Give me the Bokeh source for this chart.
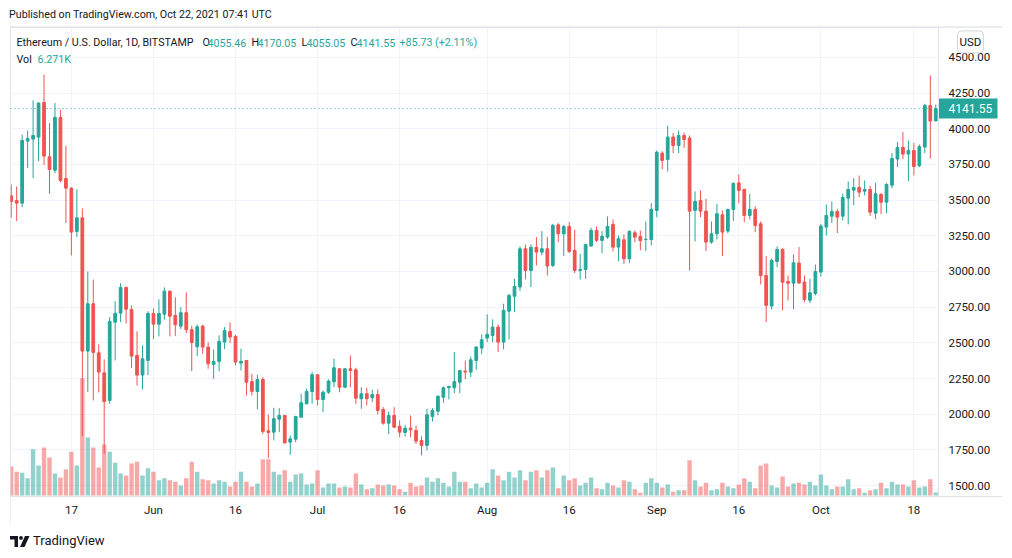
import pandas as pd
from bokeh.plotting import figure
from bokeh.models import ColumnDataSource, Range1d, FixedTicker, NumeralTickFormatter, Label, Div
from bokeh.core.properties import value
from bokeh.layouts import column
from bokeh.embed import file_html
from bokeh.resources import INLINE

# ---------------- data (ETH/USD daily, BITSTAMP) ----------------
dates = pd.date_range("2021-05-06", "2021-10-22", freq="D")

opens = [
    # May 6-31
    3530, 3498, 3479, 3914, 3928, 3942, 4185, 3804, 3710, 4080, 3652, 3584, 3281, 3376, 2442, 2774, 2430, 2290,
    2096, 2645, 2708, 2888, 2734, 2412, 2274, 2377,
    # Jun
    2706, 2631, 2701, 2862, 2692, 2617, 2711, 2592, 2472, 2617, 2470, 2349, 2370, 2505, 2580, 2545, 2358, 2376,
    2229, 2159, 2243, 1883, 1874, 1965, 1991, 1804, 1825, 1979, 2073, 2159,
    # Jul
    2276, 2103, 2154, 2227, 2318, 2189, 2318, 2311, 2108, 2143, 2115, 2138, 2033, 1937, 1991, 1916, 1872, 1902,
    1886, 1816, 1781, 1984, 2021, 2119, 2185, 2185, 2224, 2302, 2295, 2376, 2463,
    # Aug
    2533, 2552, 2610, 2505, 2722, 2827, 2891, 3159, 3007, 3169, 3136, 3159, 3042, 3327, 3264, 3316, 3148, 3007,
    3014, 3178, 3288, 3218, 3241, 3330, 3171, 3222, 3089, 3271, 3245, 3224, 3224,
    # Sep
    3428, 3829, 3785, 3942, 3883, 3953, 3935, 3428, 3498, 3423, 3206, 3264, 3397, 3283, 3435, 3621, 3575, 3393,
    3435, 3334, 2972, 2758, 3070, 3154, 2930, 2918, 3059, 2926, 2799, 2846,
    # Oct 1-22
    2996, 3311, 3388, 3421, 3388, 3514, 3570, 3589, 3563, 3575, 3409, 3540, 3486, 3605, 3788, 3869, 3823, 3848,
    3741, 3872, 4164, 4055.46,
]
highs = [
    3610, 3596, 3960, 3988, 4199, 4187, 4381, 4042, 4180, 4133, 3881, 3590, 3575, 3442, 3000, 2944, 2489, 2384,
    2680, 2792, 2918, 2895, 2762, 2580, 2482, 2722,
    2741, 2804, 2888, 2866, 2820, 2750, 2853, 2620, 2629, 2627, 2503, 2454, 2552, 2610, 2643, 2556, 2458, 2380,
    2283, 2276, 2260, 1998, 2045, 2042, 1995, 1851, 1988, 2143, 2178, 2295,
    2280, 2166, 2243, 2388, 2323, 2325, 2411, 2325, 2189, 2185, 2171, 2173, 2049, 2019, 2049, 1956, 1926, 1991,
    1921, 1846, 2038, 2042, 2131, 2194, 2201, 2435, 2311, 2376, 2404, 2477, 2559,
    2699, 2664, 2629, 2774, 2844, 2949, 3176, 3190, 3190, 3241, 3283, 3241, 3334, 3339, 3325, 3346, 3292, 3124,
    3195, 3306, 3316, 3283, 3386, 3365, 3252, 3260, 3288, 3288, 3287, 3351, 3479,
    3848, 3843, 4023, 3972, 3988, 3972, 3953, 3561, 3568, 3509, 3351, 3474, 3428, 3440, 3626, 3680, 3580, 3544,
    3456, 3351, 3108, 3091, 3175, 3164, 2972, 3119, 3171, 2972, 2949, 3049,
    3334, 3470, 3491, 3439, 3545, 3631, 3654, 3673, 3638, 3601, 3622, 3549, 3619, 3830, 3907, 3977, 3918, 3900,
    3890, 4175, 4374, 4170.05,
]
lows = [
    3376, 3353, 3451, 3724, 3654, 3774, 3746, 3545, 3689, 3624, 3339, 3112, 3241, 1846, 2155, 2096, 2152, 1722,
    2073, 2377, 2645, 2636, 2323, 2201, 2173, 2274,
    2526, 2545, 2662, 2545, 2549, 2596, 2568, 2302, 2407, 2423, 2318, 2248, 2302, 2456, 2498, 2342, 2306, 2131,
    2131, 2035, 1860, 1692, 1816, 1874, 1792, 1715, 1804, 1975, 2068, 2073,
    2061, 2014, 2143, 2189, 2154, 2185, 2189, 2073, 2038, 2061, 2084, 1998, 1926, 1860, 1904, 1839, 1844, 1839,
    1792, 1711, 1746, 1949, 1991, 2080, 2103, 2147, 2147, 2243, 2260, 2311, 2423,
    2505, 2505, 2435, 2454, 2524, 2715, 2863, 2944, 2891, 3042, 3113, 2972, 3031, 3206, 3108, 3129, 2989, 2944,
    2949, 3176, 3206, 3129, 3229, 3141, 3073, 3054, 3059, 3206, 3147, 3143, 3182,
    3381, 3715, 3701, 3829, 3829, 3865, 3007, 3210, 3381, 3143, 3194, 3224, 3108, 3269, 3353, 3479, 3346, 3365,
    3276, 2909, 2645, 2734, 3031, 2727, 2797, 2734, 2915, 2785, 2778, 2832,
    2965, 3253, 3339, 3269, 3358, 3330, 3465, 3521, 3533, 3388, 3367, 3402, 3409, 3584, 3731, 3788, 3633, 3673,
    3731, 3830, 3792, 4055.05,
]
closes = [
    3490, 3479, 3918, 3932, 3953, 4180, 3809, 3715, 4080, 3638, 3584, 3276, 3376, 2442, 2774, 2433, 2295, 2089,
    2650, 2706, 2888, 2736, 2407, 2274, 2388, 2706,
    2631, 2706, 2862, 2687, 2627, 2711, 2592, 2503, 2612, 2470, 2353, 2370, 2510, 2587, 2540, 2365, 2370, 2224,
    2160, 2243, 1879, 1872, 1968, 1991, 1799, 1827, 1984, 2080, 2159, 2276,
    2103, 2154, 2232, 2325, 2189, 2318, 2306, 2112, 2143, 2108, 2138, 2026, 1937, 1991, 1909, 1874, 1902, 1890,
    1811, 1781, 1996, 2026, 2126, 2185, 2194, 2229, 2306, 2295, 2381, 2470, 2521,
    2559, 2610, 2505, 2727, 2832, 2895, 3159, 3007, 3169, 3136, 3159, 3038, 3323, 3264, 3316, 3141, 3007, 3014,
    3190, 3288, 3218, 3246, 3316, 3171, 3229, 3089, 3281, 3241, 3217, 3226, 3435,
    3836, 3778, 3942, 3883, 3953, 3925, 3423, 3491, 3423, 3206, 3264, 3404, 3276, 3435, 3617, 3568, 3393, 3435,
    3323, 2972, 2762, 3077, 3154, 2925, 2918, 3061, 2919, 2804, 2851, 3000,
    3318, 3393, 3421, 3381, 3519, 3575, 3589, 3556, 3575, 3416, 3545, 3486, 3610, 3792, 3869, 3823, 3848, 3736,
    3876, 4164, 4054, 4141.55,
]
volumes_k = [
    61, 50, 48, 36, 97, 63, 101, 80, 46, 38, 55, 92, 63, 246, 122, 101, 59, 107, 92, 69, 46, 42, 67, 71, 42, 57,
    50, 32, 36, 32, 29, 21, 36, 71, 50, 34, 32, 25, 32, 29, 19, 29, 50, 29, 19, 25, 76, 76, 50, 44, 53, 29, 44, 46,
    23, 25,
    53, 17, 25, 25, 17, 19, 17, 46, 23, 13, 15, 23, 21, 23, 21, 13, 8, 27, 19, 21, 38, 29, 36, 27, 19, 50, 29, 29,
    15, 25, 17,
    27, 55, 42, 32, 50, 38, 53, 32, 50, 53, 38, 53, 59, 15, 42, 32, 36, 21, 27, 38, 15, 13, 27, 21, 17, 32, 29, 13,
    6, 27, 36,
    27, 17, 23, 8, 11, 11, 74, 32, 19, 27, 11, 13, 27, 19, 15, 23, 36, 29, 15, 63, 67, 21, 17, 40, 19, 25, 27, 23,
    29, 21,
    44, 21, 13, 19, 19, 34, 13, 15, 6, 11, 13, 27, 15, 29, 23, 23, 19, 32, 17, 19, 34, 6.271,
]

tick_dates = ["2021-05-17", "2021-06-01", "2021-06-16", "2021-07-01", "2021-07-16", "2021-08-01",
              "2021-08-16", "2021-09-01", "2021-09-16", "2021-10-01", "2021-10-18"]
tick_labels = ["17", "Jun", "16", "Jul", "16", "Aug", "16", "Sep", "16", "Oct", "18"]
price_ticks = [1500, 1750, 2000, 2250, 2500, 2750, 3000, 3250, 3500, 3750, 4000, 4250, 4500]

title_text = "Ethereum / U.S. Dollar, 1D, BITSTAMP"
last = dict(o=4055.46, h=4170.05, l=4055.05, c=4141.55, chg=85.73, pct=2.11, vol="6.271K")

# ---------------- styling ----------------
UP = "#26a69a"
DOWN = "#ef5350"
TXT = "#131722"
FONT = "Roboto"
GRID = "#f0f3fa"
LINE = "#e0e3eb"

is_up = [c >= o for o, c in zip(opens, closes)]
src = ColumnDataSource(dict(
    date=dates,
    high=highs, low=lows,
    top=[max(o, c) for o, c in zip(opens, closes)],
    bottom=[min(o, c) for o, c in zip(opens, closes)],
    vol=volumes_k,
    color=[UP if u else DOWN for u in is_up],
))

DAY = 86400000
PX_PER_DAY = 5.47
FRAME_H = 469
ms = lambda d: pd.Timestamp(d).value // 10**6
x_start = ms(dates[0]) - 0.13 * DAY          # left edge of the chart pane
x_axis_pos = ms(dates[-1]) + 0.5 * DAY       # where the price scale begins
x_end = x_axis_pos + 64 / PX_PER_DAY * DAY   # right edge of the price scale
Y0, Y1 = 1423, 4710
px_x = lambda n: n / PX_PER_DAY * DAY        # pixels -> time units
px_y = lambda n: n * (Y1 - Y0) / FRAME_H     # pixels -> price units

p = figure(width=992, height=497, x_axis_type="datetime", y_axis_location="right",
           x_range=Range1d(x_start, x_end), y_range=Range1d(Y0, Y1),
           output_backend="svg", toolbar_location=None,
           min_border_left=0, min_border_right=0, min_border_top=1, min_border_bottom=27,
           background_fill_color="white", border_fill_color="white")
p.margin = (0, 0, 0, 10)
p.styles = {"outline": "2px solid #e6e8ee", "outline-offset": "-2px"}
p.outline_line_color = LINE
p.extra_y_ranges = {"vol": Range1d(-2.1, 982.8)}

# white price-scale background (hides grid lines there)
p.quad(left=[x_axis_pos], right=[x_end], bottom=[Y0], top=[Y1], fill_color="white", line_color=None)

# volume
p.vbar(x="date", top="vol", bottom=0, width=0.8 * DAY, source=src, y_range_name="vol",
       fill_color="color", line_color=None, fill_alpha=0.5)
# wicks
p.segment(x0="date", x1="date", y0="low", y1="high", source=src, line_color="color", line_width=1)
# bodies
p.vbar(x="date", top="top", bottom="bottom", width=0.5 * DAY, source=src,
       fill_color="color", line_color="color", line_width=1)

# last price line
p.segment(x0=[x_start], x1=[x_axis_pos], y0=[last["c"]], y1=[last["c"]],
          line_color=UP, line_width=1, line_dash="1 3")

# price tag on the price scale
p.quad(left=[x_axis_pos], right=[x_axis_pos + px_x(59)],
       bottom=[last["c"] - px_y(10)], top=[last["c"] + px_y(10)],
       fill_color=UP, line_color=None)
p.text(x=[x_axis_pos + px_x(10)], y=[last["c"]], text=["%.2f" % last["c"]],
       text_color="white", text_font=value(FONT), text_font_size="12px",
       text_baseline="middle", text_align="left")

# axes
tick_ms = [ms(d) for d in tick_dates]
p.xaxis.ticker = FixedTicker(ticks=tick_ms)
p.xaxis.major_label_overrides = {t: lab for t, lab in zip(tick_ms, tick_labels)}
yax = p.yaxis[0]
yax.fixed_location = x_axis_pos
yax.ticker = FixedTicker(ticks=price_ticks)
yax.formatter = NumeralTickFormatter(format="0.00")
for ax in (p.xaxis[0], yax):
    ax.axis_line_color = LINE
    ax.major_tick_line_color = None
    ax.minor_tick_line_color = None
    ax.major_tick_out = 0
    ax.major_tick_in = 0
    ax.major_label_text_font = FONT
    ax.major_label_text_font_size = "11.5px"
    ax.major_label_text_color = TXT
p.xaxis.major_label_standoff = 6
yax.major_label_standoff = 10
p.xgrid.ticker = FixedTicker(ticks=tick_ms)
p.ygrid.ticker = FixedTicker(ticks=price_ticks)
p.grid.grid_line_color = GRID

# legend texts (screen units relative to frame bottom-left)
row1, row2 = 454, 437
legend_items = [
    (title_text, 6, row1, TXT),
    ("O", 192, row1, TXT), ("%.2f" % last["o"], 197, row1, UP),
    ("H", 241, row1, TXT), ("%.2f" % last["h"], 247, row1, UP),
    ("L", 291, row1, TXT), ("%.2f" % last["l"], 296, row1, UP),
    ("C", 340, row1, TXT), ("%.2f" % last["c"], 346, row1, UP),
    ("+%.2f (+%.2f%%)" % (last["chg"], last["pct"]), 389, row1, UP),
    ("Vol", 6, row2, TXT), (last["vol"], 27, row2, UP),
]
for txt, lx, ly, col in legend_items:
    p.add_layout(Label(x=lx, y=ly, x_units="screen", y_units="screen", text=txt,
                       text_color=col, text_font=FONT, text_font_size="10.7px",
                       text_baseline="middle", text_align="left"))

# currency box
p.add_layout(Label(x=x_axis_pos + px_x(32), y=4609, x_units="data", y_units="data", text="USD",
                   text_color=TXT, text_font=FONT, text_font_size="11.5px",
                   text_baseline="middle", text_align="center",
                   background_fill_color="white", border_line_color="#d1d4dc",
                   padding=(2, 4), border_radius=4))

header = Div(text="Published on TradingView.com, Oct 22, 2021 07:41 UTC", width=600, height=18,
             margin=(8, 0, 0, 8),
             styles={"font-family": FONT, "font-size": "10.7px", "color": TXT,
                     "padding-left": "1px", "line-height": "14px", "padding-top": "0px"})

logo_svg = ('<svg width="20" height="11" viewBox="0 0 20 11" style="margin-right:3px">'
            '<rect x="0" y="0" width="8" height="3.5" fill="%s"/>'
            '<rect x="4.5" y="0" width="3.5" height="11" fill="%s"/>'
            '<circle cx="11" cy="1.9" r="1.9" fill="%s"/>'
            '<polygon points="15,0 19.5,0 14.5,11 10,11" fill="%s"/></svg>') % (TXT, TXT, TXT, TXT)
footer = Div(text='<div style="display:flex;align-items:center;">%s<span>TradingView</span></div>' % logo_svg,
             width=300, height=27, margin=(0, 0, 0, 8),
             styles={"font-family": FONT, "font-size": "13px", "color": TXT,
                     "padding-left": "2px", "padding-top": "9px", "box-sizing": "border-box"})

layout = column(header, p, footer, spacing=0)
open("out.html", "w").write(file_html(layout, INLINE))
